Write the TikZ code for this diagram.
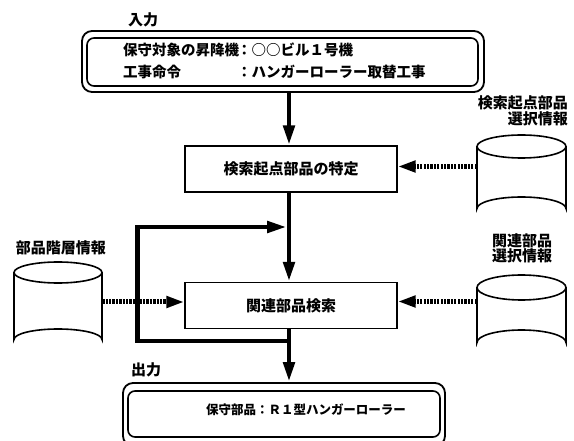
\documentclass[tikz,border=0pt]{standalone}
\usepackage{fontspec}
\setmainfont{Noto Sans CJK JP}
\usetikzlibrary{arrows.meta}
\newcommand\mycyl[5]{% cx top bottom rx ry
  \draw[cylline] (#1,#2+#5) ellipse[x radius=#4, y radius=#5];
  \draw[cylline] (#1-#4,#2+#5) -- (#1-#4,#3-#5) arc[start angle=180, end angle=360, x radius=#4, y radius=#5] -- (#1+#4,#2+#5);
}
\begin{document}
\begin{tikzpicture}[x=1pt,y=-1pt,
  cylline/.style={line width=1.6pt},
  procbox/.style={draw, line width=1.3pt, minimum width=212pt, minimum height=46pt, inner sep=0pt, font=\fontsize{15}{17}\selectfont\bfseries},
  outerframe/.style={draw, line width=1.8pt, rounded corners=10pt, inner sep=0pt},
  innerframe/.style={draw, line width=1.6pt, rounded corners=7pt, inner sep=0pt},
  lbl/.style={inner sep=0pt, font=\fontsize{15}{14}\selectfont\bfseries},
  txt/.style={inner sep=0pt, anchor=west, font=\fontsize{14.5}{17}\selectfont\bfseries},
  anchorbox/.style={inner sep=0pt},
  flow/.style={line width=4.8pt, line join=miter, -{Triangle[length=20pt,width=11pt]}},
  dotflow/.style={line width=5pt, dash pattern=on 2.3pt off 1.1pt, -{Triangle[length=18pt,width=11pt]}}
]
\useasboundingbox (0,0) rectangle (574,441);

% input
\node[lbl] (inlabel) at (143,20) {入力};
\node[outerframe, minimum width=402pt, minimum height=61pt] (inout) at (283,61.5) {};
\node[innerframe, minimum width=391pt, minimum height=48pt] (inbox) at (282.5,62) {};
\node[txt] (in1a) at (123,50) {保守対象の昇降機};
\node[txt] (in1b) at (237,50) {：○○ビル１号機};
\node[txt] (in2a) at (123,72) {工事命令};
\node[txt] (in2b) at (237,72) {：ハンガーローラー取替工事};

% process boxes
\node[procbox] (b1) at (291,169) {検索起点部品の特定};
\node[procbox] (b2) at (291,305.5) {関連部品検索};

% output
\node[lbl] (outlabel) at (146,370) {出力};
\node[outerframe, minimum width=322pt, minimum height=63pt] (outout) at (284,414.5) {};
\node[innerframe, minimum width=312pt, minimum height=46pt] (outbox) at (284,414) {};
\node[txt, anchor=center, font=\fontsize{12.5}{15}\selectfont\bfseries] (outtext) at (306,410) {保守部品：Ｒ１型ハンガーローラー};

% cylinders
\mycyl{58}{262}{350}{44}{10.5}
\node[anchorbox, minimum width=88pt, minimum height=88pt] (cylL) at (58,306) {};
\node[lbl] (cylLlabel) at (61,248) {部品階層情報};

\mycyl{521.5}{135}{220}{44.5}{11.5}
\node[anchorbox, minimum width=89pt, minimum height=85pt] (cylR1) at (521.5,177.5) {};
\node[lbl, anchor=east, align=right] (cylR1label) at (568,111) {検索起点部品\\選択情報};

\mycyl{521.5}{275}{355}{44.5}{12.5}
\node[anchorbox, minimum width=89pt, minimum height=80pt] (cylR2) at (521.5,315) {};
\node[lbl, align=center] (cylR2label) at (522,248.5) {関連部品\\選択情報};

% main flow
\draw[flow] (inout.south -| 289,0) -- (b1.north -| 289,0);
\draw[flow] (b1.south -| 289,0) -- (b2.north -| 289,0);
\draw[flow] (b2.south -| 289,0) -- (outout.north -| 289,0);

% loop
\coordinate (loopstart) at (289,341);
\coordinate (loopend) at (287,227);
\draw[flow] (loopstart) -- (137.5,341) -- (137.5,227) -- (loopend);

% data inputs
\draw[dotflow] (cylL.east |- 0,302) -- (b2.west |- 0,302);
\draw[dotflow] (cylR1.west |- 0,166.5) -- (b1.east |- 0,166.5);
\draw[dotflow] (cylR2.west |- 0,301.5) -- (b2.east |- 0,301.5);
\end{tikzpicture}
\end{document}
